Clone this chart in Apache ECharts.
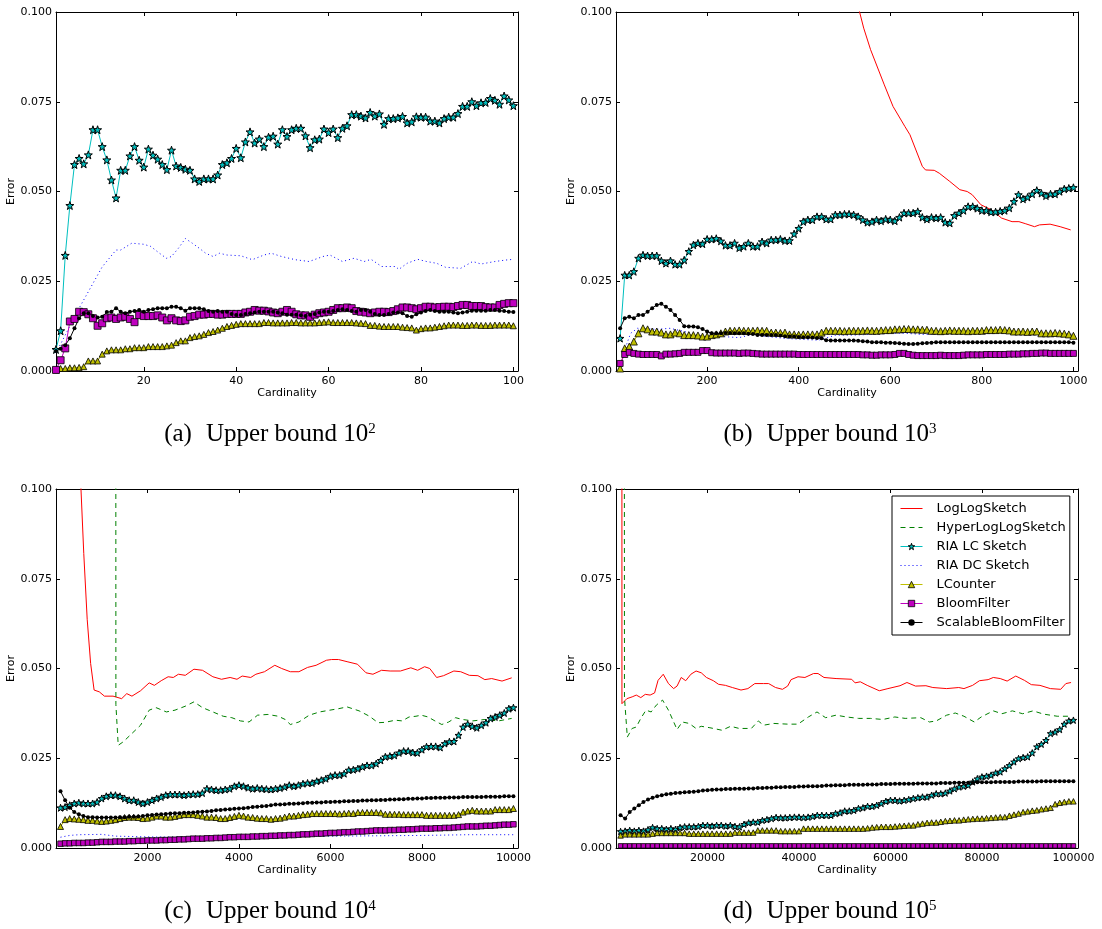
<!DOCTYPE html>
<html><head><meta charset="utf-8">
<script src="https://cdn.jsdelivr.net/npm/echarts@6/dist/echarts.min.js"></script>
<style>html,body{margin:0;padding:0;background:#fff}#c{width:1102px;height:929px}</style>
</head><body><div id="c"></div>
<script>
// ---------- data ----------
const seriesNames = ['LogLogSketch','HyperLogLogSketch','RIA LC Sketch','RIA DC Sketch','LCounter','BloomFilter','ScalableBloomFilter'];
const steps = [1, 10, 100, 1000];
const xMax = [101, 1010, 10100, 101000];
const ticksA = [20,40,60,80,100];
const ticksB = [200,400,600,800,1000];
const ticksC = [2000,4000,6000,8000,10000];
const ticksD = [20000,40000,60000,80000,100000];
const captionTags = ['a','b','c','d'];
const captionExps = ['2','3','4','5'];

// panel (a): upper bound 10^2
const lcA = [.006,.0112,.0322,.0461,.0575,.0592,.0577,.0602,.0672,.0672,
.0625,.0588,.0532,.0482,.0559,.0559,.0599,.0625,.0587,.0568,
.0618,.0601,.059,.0575,.0561,.0615,.0571,.0567,.0562,.0559,
.0535,.0528,.0535,.0535,.0535,.0546,.0575,.058,.0592,.062,
.0594,.0638,.0666,.0635,.0646,.0625,.0651,.0654,.0632,.0672,
.0653,.0672,.0676,.0676,.0655,.0622,.0644,.0646,.0674,.0664,
.0674,.065,.0676,.0683,.0714,.0714,.071,.0705,.072,.071,
.0716,.0687,.0703,.0703,.0705,.0709,.0691,.0694,.0708,.0707,
.0707,.0696,.0696,.0691,.0703,.0707,.0707,.0717,.0737,.0737,
.075,.0739,.0747,.0748,.0759,.0754,.0743,.0766,.0755,.0739];
const dcA = [[1,.005],[6,.0175],[11,.029],[14,.0337],[15,.0337],[17.4,.0356],[20,.0353],[21.5,.0347],[23.4,.0328],[24.9,.0314],[26,.0319],[27.5,.0342],[29,.0369],[30.5,.0356],[32,.0342],[33.4,.0328],[35,.0319],[36.4,.0328],[38,.0323],[41,.0321],[43.5,.031],[46,.0323],[47.6,.0328],[49.8,.0319],[52.8,.031],[55.8,.0305],[58.8,.0319],[60.3,.0323],[63,.0305],[65.5,.0314],[67.7,.0305],[69.2,.0311],[71.5,.0291],[74.5,.0291],[75.2,.0283],[77,.03],[79.3,.0311],[81.2,.0305],[83.4,.03],[85.3,.0289],[88.6,.0286],[91.2,.0305],[93,.0298],[96,.0305],[98.3,.0309],[100,.0311]];
const lcoA = [.0003,.0007,.0007,.0009,.0009,.001,.0012,.0028,.0028,.0028,
.0047,.0056,.0059,.0059,.0059,.0062,.0062,.0065,.0065,.0065,
.0068,.0068,.0068,.0068,.007,.0072,.0079,.0084,.0084,.0093,
.0096,.0098,.0102,.0107,.011,.0114,.0119,.0124,.0127,.013,
.0132,.0132,.0132,.0132,.0132,.0135,.0135,.0134,.0134,.0134,
.0134,.0135,.0135,.0134,.0134,.0134,.0134,.0135,.0136,.0137,
.0135,.0135,.0135,.0135,.0135,.0134,.0133,.0132,.0127,.0127,
.0125,.0124,.0124,.0124,.0124,.0122,.0121,.012,.0114,.0118,
.012,.012,.0122,.0124,.0126,.0128,.0128,.0128,.0127,.0127,
.0128,.0128,.0127,.0127,.0127,.0128,.0128,.0128,.0128,.0126];
const bfA = [.0003,.003,.0063,.0138,.0145,.0165,.0164,.0158,.0147,.0126,
.0133,.0147,.0149,.0145,.0149,.0151,.0145,.0136,.0156,.0153,
.0153,.0153,.0155,.0149,.0141,.0147,.0141,.0139,.0141,.0151,
.0153,.0157,.0157,.0159,.0159,.0157,.0157,.0159,.0159,.0159,
.0159,.0163,.0165,.017,.0168,.0168,.0166,.0163,.0161,.0165,
.017,.0165,.0158,.0155,.0155,.0151,.0157,.0161,.0163,.0165,
.017,.0175,.0175,.0177,.0175,.0167,.0165,.0163,.0161,.0163,
.0165,.0165,.0164,.0167,.0172,.0177,.0177,.0175,.0172,.0175,
.0179,.0179,.0177,.0178,.0179,.0179,.0178,.0181,.0184,.0184,
.0181,.0181,.0181,.0178,.0177,.0177,.0184,.0187,.0189,.0189];
const sbfA = [.0056,.0062,.0072,.0091,.0119,.0147,.0161,.0161,.0153,.0149,
.0151,.0164,.0165,.0175,.0165,.0161,.0165,.0167,.017,.0165,
.017,.0172,.0175,.0175,.0175,.0179,.0179,.0175,.0168,.0175,
.0175,.0175,.0172,.0167,.0165,.0167,.0165,.0165,.0159,.0156,
.0156,.0159,.0161,.0163,.0165,.0165,.0165,.0165,.0163,.0161,
.0157,.0157,.0157,.0155,.0153,.0157,.0159,.0163,.0165,.0165,
.0167,.017,.0172,.017,.0167,.0165,.017,.017,.0165,.0159,
.0156,.0156,.0159,.0163,.0163,.0161,.0153,.0151,.0158,.0163,
.0167,.017,.0167,.0165,.0165,.0165,.0163,.0161,.0163,.0165,
.0168,.0168,.0168,.0168,.017,.017,.0168,.0167,.0165,.0164];
const llA = [];
const hllA = [];

// panel (b): upper bound 10^3
const llB = [[520,.106],[533,.1],[542,.0955],[557,.0895],[587,.0797],[606,.0737],[632,.0681],[643,.0658],[670,.057],[677,.056],[696,.0559],[707,.0551],[730,.0528],[752,.0505],[768,.05],[779,.0491],[798,.0463],[821,.0449],[843,.0426],[866,.0416],[881,.0416],[896,.041],[915,.0402],[926,.0407],[949,.0409],[971,.0402],[994,.0393]];
const hllB = [];
const lcB = [.0091,.0267,.0267,.0277,.0314,.0323,.0321,.0321,.0321,.0307,
.03,.0307,.0297,.0297,.0309,.0333,.0351,.0356,.0354,.0367,
.0367,.0369,.0362,.035,.035,.0356,.0343,.0347,.0356,.0347,
.0347,.036,.0356,.0365,.0365,.0367,.0363,.0363,.0382,.0397,
.0416,.0421,.0421,.043,.043,.0423,.0423,.0435,.0435,.0437,
.0437,.0435,.043,.0421,.0414,.0416,.0421,.0418,.0423,.0421,
.0418,.0428,.044,.044,.044,.0444,.0428,.0423,.0428,.0426,
.0428,.0414,.0412,.0433,.044,.0447,.0458,.0458,.0453,.0447,
.0447,.0443,.0443,.0445,.0447,.0454,.0472,.0491,.0479,.0484,
.0493,.0503,.0495,.0488,.0493,.0493,.05,.0507,.0509,.0511];
const dcB = [[10,.001],[20,.006],[33,.0105],[48,.0119],[89,.0116],[119,.0119],[150,.011],[195,.0096],[232,.0096],[270,.0093],[300,.0102],[330,.0096],[368,.0091],[406,.0088],[444,.0086],[481,.01],[519,.01],[557,.0102],[594,.0105],[632,.0105],[670,.0102],[708,.0102],[745,.0105],[783,.0105],[821,.0107],[859,.011],[896,.011],[934,.0105],[971,.0105],[1000,.0102]];
const lcoB = [.0007,.0063,.0068,.0082,.0105,.0119,.0116,.011,.011,.0107,
.0102,.0102,.0107,.0105,.01,.01,.01,.0099,.0096,.0096,
.01,.0102,.0105,.011,.0112,.0112,.0113,.0112,.0112,.0112,
.0113,.0112,.0112,.0107,.0107,.0106,.0107,.0102,.0102,.0101,
.0102,.0102,.0102,.0102,.0107,.0112,.0112,.0112,.0112,.0111,
.0112,.0112,.0112,.0112,.0113,.0112,.0112,.0113,.0114,.0114,
.0116,.0116,.0117,.0117,.0116,.0116,.0115,.0115,.0112,.0112,
.0111,.0112,.0113,.0112,.0112,.0112,.0111,.0112,.0112,.0112,
.0114,.0114,.0114,.0115,.0114,.0113,.011,.011,.011,.0109,
.011,.011,.0105,.0105,.0105,.0106,.0105,.0104,.0102,.0098];
const bfB = [.0021,.0046,.0052,.0049,.0047,.0046,.0046,.0046,.0046,.0042,
.0047,.0047,.0048,.0049,.0052,.0052,.0052,.0052,.0057,.0057,
.0051,.005,.005,.005,.005,.005,.0049,.005,.005,.0049,
.0048,.0047,.0047,.0047,.0047,.0047,.0047,.0047,.0047,.0046,
.0046,.0046,.0046,.0046,.0046,.0046,.0046,.0046,.0046,.0046,
.0046,.0046,.0046,.0045,.0045,.0044,.0044,.0045,.0045,.0045,
.0046,.0049,.0049,.0046,.0044,.0043,.0043,.0043,.0043,.0043,
.0044,.0043,.0043,.0043,.0043,.0044,.0045,.0045,.0045,.0045,
.0046,.0046,.0046,.0046,.0046,.0047,.0047,.0047,.0048,.0048,
.0049,.0049,.005,.005,.0049,.0049,.0049,.0049,.0049,.0049];
const sbfB = [.0119,.0147,.0151,.0147,.0156,.0156,.0165,.0175,.0184,.0187,
.0179,.017,.0156,.0142,.0125,.0124,.0124,.0122,.0117,.011,
.0105,.0105,.0105,.0106,.0106,.0105,.0105,.0105,.0104,.0103,
.01,.01,.01,.01,.01,.0099,.0097,.0096,.0096,.0095,
.0094,.0094,.0093,.0092,.0091,.0086,.0085,.0085,.0085,.0085,
.0085,.0085,.0084,.0083,.0082,.008,.008,.008,.0079,.0079,
.0078,.0077,.0076,.0075,.0075,.0076,.0077,.0078,.0079,.008,
.008,.008,.008,.008,.008,.008,.008,.008,.008,.008,
.008,.008,.008,.008,.008,.008,.008,.008,.008,.008,
.008,.008,.008,.008,.008,.008,.008,.008,.008,.0079];

// panel (c): upper bound 10^4
const llC = [[530,.106],[547,.1],[608,.082],[683,.0637],[758,.0514],[834,.044],[947,.0435],[1060,.0423],[1248,.0423],[1436,.0416],[1548,.043],[1661,.0423],[1849,.0438],[2038,.046],[2151,.0453],[2301,.0466],[2452,.0477],[2565,.0475],[2677,.0484],[2828,.0481],[3016,.0498],[3204,.0495],[3430,.0477],[3618,.047],[3807,.0475],[3957,.047],[4070,.0479],[4258,.0475],[4370,.0484],[4558,.0491],[4784,.0509],[4935,.05],[5123,.0491],[5311,.0491],[5499,.0503],[5687,.0509],[5913,.0523],[6026,.0525],[6176,.0525],[6364,.0519],[6590,.0512],[6778,.0488],[6929,.0484],[7117,.0495],[7305,.0493],[7531,.0493],[7757,.0502],[7907,.0495],[8058,.0505],[8171,.05],[8321,.0475],[8472,.048],[8698,.0493],[8848,.0491],[9036,.0481],[9224,.048],[9375,.0469],[9525,.0472],[9751,.0465],[9962,.0474]];
const hllC = [[1300,.6],[1310,.04],[1361,.0286],[1473,.0296],[1661,.0319],[1849,.0342],[2038,.0384],[2188,.0391],[2414,.0379],[2602,.0384],[2828,.0395],[3016,.0407],[3204,.0391],[3430,.0379],[3656,.0367],[3844,.0363],[4032,.0354],[4220,.0351],[4408,.037],[4634,.0372],[4860,.0367],[5011,.0358],[5123,.0344],[5311,.0351],[5537,.037],[5763,.0379],[5989,.0384],[6176,.0388],[6364,.0393],[6627,.0382],[6853,.0367],[7041,.0349],[7192,.035],[7418,.0356],[7568,.0354],[7719,.0365],[7870,.0367],[7983,.037],[8133,.0365],[8284,.0354],[8434,.0344],[8585,.0351],[8735,.0363],[8886,.0358],[9111,.0354],[9375,.0358],[9676,.0354],[9962,.0361]];
const lcC = [.0112,.0114,.0119,.0124,.0126,.0124,.0124,.0124,.0128,.0138,
.0144,.0147,.0147,.0144,.0138,.0133,.0133,.0128,.0124,.0128,
.0133,.0138,.0142,.0147,.0149,.0149,.0149,.0147,.0149,.015,
.015,.0153,.0165,.0163,.0161,.0161,.0163,.0165,.0172,.0175,
.0172,.0168,.0165,.0167,.0165,.0164,.0163,.0165,.0167,.017,
.0175,.0172,.0175,.0179,.0181,.0181,.0186,.0189,.0193,.02,
.0203,.0203,.0207,.0217,.0218,.0221,.0226,.023,.023,.0235,
.0244,.0254,.0256,.0258,.0265,.027,.027,.0266,.0265,.0274,
.0282,.0283,.0283,.028,.0291,.0296,.0297,.0314,.0337,.0345,
.0339,.0335,.0342,.0349,.0361,.0365,.037,.0376,.0388,.0391];
const dcC = [[100,.003],[300,.0035],[500,.0037],[1000,.0038],[1300,.0033],[2000,.0031],[3000,.003],[4000,.0031],[5000,.0032],[6000,.0033],[7000,.0034],[8000,.0035],[9000,.0037],[10000,.0037]];
const lcoC = [.006,.0079,.0082,.0081,.008,.0079,.0077,.0077,.0075,.0074,
.0075,.0077,.0079,.0082,.0085,.0086,.0086,.0085,.0082,.0083,
.0086,.0089,.0089,.0086,.0086,.0088,.0091,.0093,.0093,.0093,
.0091,.0089,.0086,.0086,.0085,.0082,.0082,.0085,.0088,.0091,
.0089,.0086,.0085,.0083,.0082,.0082,.008,.0082,.0083,.0086,
.0089,.0089,.0091,.0093,.0094,.0096,.0096,.0096,.0096,.0096,
.0096,.0095,.0096,.0097,.0096,.0099,.0099,.0099,.0099,.0099,
.0098,.0094,.0094,.0094,.0094,.0093,.0093,.0093,.0093,.0093,
.0091,.0091,.0091,.0091,.0091,.0091,.0091,.0093,.01,.0103,
.0105,.0103,.0103,.0103,.0103,.0107,.0107,.0107,.0107,.011];
const bfC = [.0012,.0013,.0013,.0014,.0014,.0014,.0015,.0015,.0016,.0017,
.0017,.0017,.0018,.0018,.0018,.0019,.0019,.002,.002,.0021,
.0021,.0021,.0022,.0022,.0023,.0023,.0024,.0024,.0025,.0026,
.0026,.0026,.0027,.0027,.0028,.0028,.0029,.003,.003,.0031,
.0031,.0031,.0032,.0032,.0033,.0033,.0034,.0034,.0035,.0035,
.0036,.0036,.0037,.0038,.0038,.0039,.004,.004,.0041,.0042,
.0042,.0043,.0044,.0044,.0045,.0046,.0046,.0047,.0048,.0049,
.0049,.0049,.005,.005,.0051,.0051,.0052,.0052,.0053,.0054,
.0054,.0054,.0055,.0055,.0056,.0056,.0057,.0058,.0059,.006,
.006,.006,.0061,.0062,.0062,.0063,.0064,.0065,.0065,.0066];
const sbfC = [.0158,.0133,.0112,.01,.0094,.0089,.0086,.0086,.0085,.0085,
.0085,.0085,.0085,.0086,.0086,.0087,.0087,.0088,.0089,.0091,
.0092,.0093,.0094,.0095,.0096,.0097,.0097,.0098,.0098,.0099,
.01,.0101,.0102,.0103,.0105,.0106,.0107,.0108,.0109,.011,
.0111,.0112,.0114,.0115,.0116,.0117,.0119,.0121,.0121,.0122,
.0123,.0123,.0124,.0125,.0126,.0126,.0127,.0127,.0128,.0128,
.0129,.0129,.013,.013,.0131,.0131,.0132,.0132,.0133,.0133,
.0134,.0134,.0135,.0135,.0136,.0136,.0137,.0137,.0138,.0138,
.0139,.0139,.014,.014,.014,.0141,.0141,.0141,.0142,.0142,
.0142,.0142,.0142,.0143,.0143,.0143,.0143,.0144,.0144,.0144];

// panel (d): upper bound 10^5
const llD = [[1250,.5],[1300,.0402],[2379,.0416],[3531,.0421],[4438,.0426],[5420,.0419],[6402,.0428],[7459,.0426],[8441,.0432],[9196,.0467],[10329,.0484],[11462,.0458],[12595,.0444],[13350,.0451],[14257,.0475],[15239,.0466],[16372,.0484],[17505,.0493],[18638,.0488],[19771,.0475],[21282,.0466],[22415,.0456],[23926,.0453],[25437,.0447],[27325,.044],[28836,.0444],[30347,.0458],[32235,.0458],[33368,.0458],[34879,.0447],[36390,.0442],[37523,.0451],[38278,.0469],[39790,.0477],[41300,.0475],[43188,.0486],[44170,.0486],[45472,.0475],[48116,.0472],[51516,.047],[52271,.046],[53404,.0463],[54915,.0453],[57558,.0438],[59447,.0444],[62091,.0452],[63602,.0461],[65490,.0451],[67756,.0452],[69267,.0447],[72289,.0444],[74932,.0447],[76065,.0444],[77954,.0453],[79465,.0466],[81353,.0469],[82486,.0475],[83997,.0472],[85508,.0465],[87396,.0479],[89285,.0467],[90796,.0455],[92684,.0453],[94950,.0444],[97216,.0442],[98349,.0458],[99482,.0461]];
const hllD = [[1700,.6],[1850,.042],[2474,.0309],[3531,.0333],[4438,.0337],[5420,.0361],[6553,.0384],[7686,.0379],[8819,.0398],[10178,.0412],[11462,.0384],[13350,.033],[14483,.0351],[15994,.0347],[17505,.0333],[18638,.0339],[20527,.0335],[23171,.0328],[25059,.0339],[26948,.0333],[29591,.0333],[31102,.0354],[32235,.0342],[34502,.0347],[37523,.0345],[39790,.0345],[42056,.0365],[43944,.0379],[45833,.0363],[48116,.037],[50382,.0365],[53026,.0361],[55669,.0361],[58313,.0358],[60957,.0365],[63224,.0361],[66623,.0363],[68511,.0351],[70022,.0354],[72289,.037],[74177,.0376],[76065,.0367],[78332,.0351],[79843,.0365],[82486,.0382],[84375,.0374],[86641,.0382],[88907,.0374],[91173,.0382],[93439,.0373],[96460,.0367],[99482,.0367]];
const lcD = [.0046,.0047,.0049,.0047,.0049,.0047,.0051,.0057,.0054,.0054,
.0052,.0054,.0052,.0057,.0059,.0059,.0059,.006,.0063,.0063,
.0061,.0063,.0063,.0061,.0063,.006,.0059,.0066,.007,.0072,
.0072,.0077,.0079,.0082,.0085,.0084,.0084,.0085,.0086,.0086,
.0085,.0086,.0088,.0091,.0091,.0091,.0091,.0096,.0098,.0103,
.0103,.0105,.011,.0112,.0116,.0116,.0119,.0124,.013,.0133,
.0133,.0131,.0133,.0135,.0138,.014,.0142,.0142,.0147,.0151,
.0151,.0153,.0159,.0165,.017,.0172,.0175,.0184,.0193,.0198,
.02,.0203,.0209,.0212,.0221,.023,.024,.0249,.0252,.0254,
.0265,.0282,.0289,.03,.0319,.0323,.033,.0345,.0354,.0356];
const dcD = [[1000,.0006],[50000,.0005],[100000,.0005]];
const lcoD = [.0035,.0038,.0038,.0038,.0038,.0038,.0038,.004,.0042,.0042,
.0042,.0042,.0042,.0042,.0042,.004,.004,.004,.004,.004,
.004,.004,.004,.004,.004,.0043,.0043,.0043,.0043,.0043,
.0049,.0049,.0049,.0049,.0049,.0047,.0047,.0047,.0047,.0047,
.0054,.0054,.0054,.0054,.0054,.0054,.0054,.0054,.0054,.0054,
.0054,.0054,.0054,.0054,.0055,.0057,.0058,.0059,.0059,.0059,
.006,.0061,.0062,.0063,.0063,.0066,.0068,.007,.0071,.0071,
.0073,.0075,.0076,.0077,.0077,.0079,.008,.0081,.0082,.0082,
.0083,.0084,.0085,.0086,.0086,.009,.0093,.0096,.01,.0102,
.0104,.0105,.0108,.011,.0112,.0122,.0126,.0128,.013,.013];
const bfD = [.0006,.0006,.0006,.0006,.0006,.0006,.0006,.0006,.0006,.0006,
.0006,.0006,.0006,.0006,.0006,.0006,.0006,.0006,.0006,.0006,
.0006,.0006,.0006,.0006,.0006,.0006,.0006,.0006,.0006,.0006,
.0006,.0006,.0006,.0006,.0006,.0006,.0006,.0006,.0006,.0006,
.0006,.0006,.0006,.0006,.0006,.0006,.0006,.0006,.0006,.0006,
.0006,.0006,.0006,.0006,.0006,.0006,.0006,.0006,.0006,.0006,
.0006,.0006,.0006,.0006,.0006,.0006,.0006,.0006,.0006,.0006,
.0006,.0006,.0006,.0006,.0006,.0006,.0006,.0006,.0006,.0006,
.0006,.0006,.0006,.0006,.0006,.0006,.0006,.0006,.0006,.0006,
.0006,.0006,.0006,.0006,.0006,.0006,.0006,.0006,.0006,.0006];
const sbfD = [.0091,.0082,.01,.011,.0119,.0128,.0135,.014,.0144,.0147,
.015,.0151,.0153,.0154,.0155,.0156,.0157,.0158,.016,.0161,
.0162,.0163,.0163,.0164,.0164,.0165,.0165,.0165,.0166,.0166,
.0167,.0167,.0168,.0168,.0169,.0169,.017,.017,.017,.0171,
.0171,.0172,.0172,.0172,.0173,.0174,.0174,.0175,.0175,.0175,
.0176,.0176,.0176,.0176,.0177,.0177,.0177,.0178,.0178,.0178,
.0179,.0179,.0179,.0179,.0179,.018,.018,.018,.018,.018,
.0181,.0181,.0181,.0182,.0182,.0182,.0182,.0182,.0183,.0183,
.0183,.0183,.0184,.0184,.0184,.0184,.0184,.0185,.0185,.0185,
.0185,.0185,.0186,.0186,.0186,.0186,.0186,.0186,.0186,.0186];

// ---------- layout & style ----------
const gridBoxes = [
  {left:56, top:12, width:462, height:359},
  {left:616, top:12, width:462, height:359},
  {left:56, top:489, width:462, height:359},
  {left:616, top:489, width:462, height:359}
];
const captionPos = [[270,434],[830,434],[270,911],[830,911]];
const starPath = 'path://M0,-10 L2.35,-3.24 L9.51,-3.09 L3.8,1.24 L5.88,8.09 L0,4 L-5.88,8.09 L-3.8,1.24 L-9.51,-3.09 L-2.35,-3.24 Z';
const markerSizes = [
  {star:8, tri:6, sq:7, dot:4},
  {star:7.5, tri:7, sq:6, dot:4},
  {star:7, tri:6, sq:5.5, dot:4},
  {star:6.5, tri:5.5, sq:4.5, dot:4}
];
const FONT = 'DejaVu Sans';

const llAll = [llA, llB, llC, llD];
const hllAll = [hllA, hllB, hllC, hllD];
const lcAll = [lcA, lcB, lcC, lcD];
const dcAll = [dcA, dcB, dcC, dcD];
const lcoAll = [lcoA, lcoB, lcoC, lcoD];
const bfAll = [bfA, bfB, bfC, bfD];
const sbfAll = [sbfA, sbfB, sbfC, sbfD];
const tickAll = [ticksA, ticksB, ticksC, ticksD];

function indexed(vals, step){ return vals.map((v,i)=>[(i+1)*step, v]); }

const xAxes = [], yAxes = [], series = [], grids = [];
for (let p = 0; p < 4; p++) {
  grids.push(Object.assign({containLabel:false, show:false}, gridBoxes[p]));
  const tk = tickAll[p];
  const axisLine = {show:true, onZero:false, lineStyle:{color:'#000', width:1}};
  const axisTick = {show:true, inside:true, length:4, customValues:tk, lineStyle:{color:'#000', width:1}};
  xAxes.push({type:'value', gridIndex:p, position:'bottom', min:1, max:xMax[p],
    axisLine, axisTick,
    axisLabel:{show:true, customValues:tk, formatter:v=>String(v), fontFamily:FONT, fontSize:11, color:'#000', margin:5},
    splitLine:{show:false},
    name:'Cardinality', nameLocation:'middle', nameGap:16,
    nameTextStyle:{fontFamily:FONT, fontSize:11, color:'#000'}});
  xAxes.push({type:'value', gridIndex:p, position:'top', min:1, max:xMax[p],
    axisLine, axisTick, axisLabel:{show:false}, splitLine:{show:false}});
  const yTick = {show:true, inside:true, length:4, lineStyle:{color:'#000', width:1}};
  yAxes.push({type:'value', gridIndex:p, position:'left', min:0, max:0.1, interval:0.025,
    axisLine, axisTick:yTick,
    axisLabel:{show:true, formatter:v=>v.toFixed(3), fontFamily:FONT, fontSize:11, color:'#000', margin:4},
    splitLine:{show:false},
    name:'Error', nameLocation:'middle', nameGap:37,
    nameTextStyle:{fontFamily:FONT, fontSize:11, color:'#000'}});
  yAxes.push({type:'value', gridIndex:p, position:'right', min:0, max:0.1, interval:0.025,
    axisLine, axisTick:yTick, axisLabel:{show:false}, splitLine:{show:false}});

  const ms = markerSizes[p];
  const base = {type:'line', xAxisIndex:2*p, yAxisIndex:2*p, animation:false, silent:true,
    showAllSymbol:true, emphasis:{disabled:true}, clip:true};
  const step = steps[p];
  if (llAll[p].length) series.push(Object.assign({}, base, {name:seriesNames[0], data:llAll[p], symbol:'none',
    lineStyle:{color:'#ff0000', width:1}, itemStyle:{color:'#ff0000'}}));
  if (hllAll[p].length) series.push(Object.assign({}, base, {name:seriesNames[1], data:hllAll[p], symbol:'none',
    lineStyle:{color:'#008000', width:1, type:[5,4]}, itemStyle:{color:'#008000'}}));
  series.push(Object.assign({}, base, {name:seriesNames[2], data:indexed(lcAll[p], step), symbol:starPath, symbolSize:ms.star,
    lineStyle:{color:'#00bfbf', width:1}, itemStyle:{color:'#00bfbf', borderColor:'#000', borderWidth:1}}));
  series.push(Object.assign({}, base, {name:seriesNames[3], data:dcAll[p], symbol:'none',
    lineStyle:{color:'#0000ff', width:1, type:[1,3]}, itemStyle:{color:'#0000ff'}}));
  series.push(Object.assign({}, base, {name:seriesNames[4], data:indexed(lcoAll[p], step), symbol:'triangle', symbolSize:ms.tri,
    lineStyle:{color:'#bfbf00', width:1}, itemStyle:{color:'#bfbf00', borderColor:'#000', borderWidth:0.8}}));
  series.push(Object.assign({}, base, {name:seriesNames[5], data:indexed(bfAll[p], step), symbol:'rect', symbolSize:ms.sq,
    lineStyle:{color:'#bf00bf', width:1}, itemStyle:{color:'#bf00bf', borderColor:'#000', borderWidth:0.8}}));
  series.push(Object.assign({}, base, {name:seriesNames[6], data:indexed(sbfAll[p], step), symbol:'circle', symbolSize:ms.dot,
    lineStyle:{color:'#000', width:1}, itemStyle:{color:'#000'}}));
}

const graphics = captionTags.map((t,i)=>({
  type:'text', x:captionPos[i][0], y:captionPos[i][1], z:100,
  style:{
    text:'{p|(' + t + ')}Upper bound 10{s|' + captionExps[i] + '}',
    fontFamily:'Liberation Serif', fontSize:25, fill:'#000',
    textAlign:'center', textVerticalAlign:'middle',
    rich:{
      p:{fontFamily:'Liberation Serif', fontSize:25, padding:[0,14,0,0]},
      s:{fontFamily:'Liberation Serif', fontSize:15, verticalAlign:'top', padding:[0,0,0,0]}
    }
  }
}));

const lineOnly = {opacity:0};
const legendData = [
  {name:seriesNames[0], itemStyle:lineOnly},
  {name:seriesNames[1], itemStyle:lineOnly},
  {name:seriesNames[2], itemStyle:{color:'#00bfbf', borderColor:'#000', borderWidth:1}},
  {name:seriesNames[3], itemStyle:lineOnly},
  {name:seriesNames[4], itemStyle:{color:'#bfbf00', borderColor:'#000', borderWidth:0.8}},
  {name:seriesNames[5], itemStyle:{color:'#bf00bf', borderColor:'#000', borderWidth:0.8}},
  {name:seriesNames[6], itemStyle:{color:'#000'}}
];

const chart = echarts.init(document.getElementById('c'), null, {renderer:'canvas'});
chart.setOption({
  animation:false,
  backgroundColor:'#fff',
  grid:grids, xAxis:xAxes, yAxis:yAxes, series,
  legend:{
    data:legendData, orient:'vertical', left:892, top:496,
    itemWidth:22, itemHeight:8, itemGap:6,
    padding:[6,4,6,8], borderColor:'#000', borderWidth:1, backgroundColor:'#fff',
    lineStyle:{width:1},
    textStyle:{fontFamily:FONT, fontSize:13, color:'#000', padding:[0,0,0,9]},
    selectedMode:false
  },
  graphic:graphics
});
</script></body></html>
